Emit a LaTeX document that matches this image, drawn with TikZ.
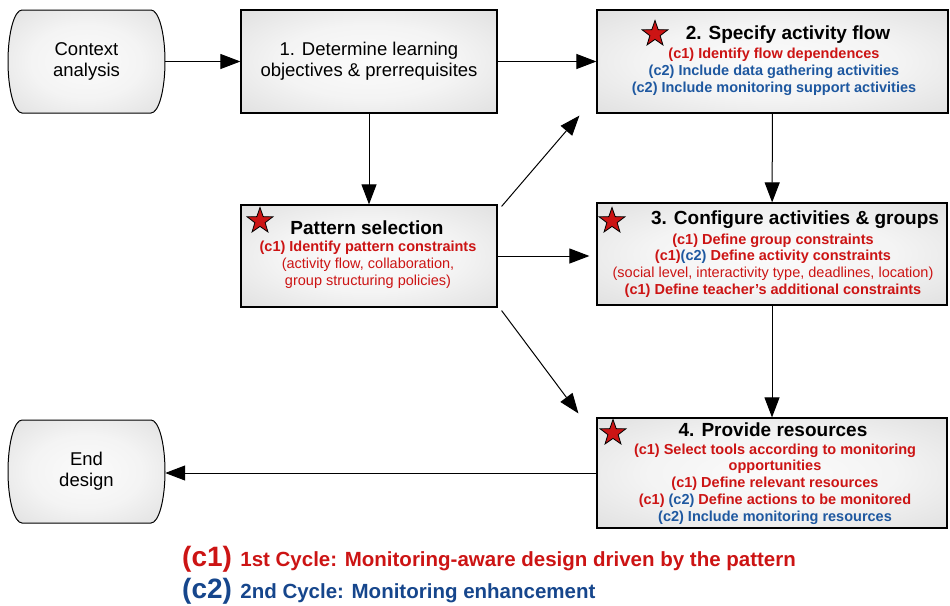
\documentclass[tikz,border=0pt]{standalone}
\usepackage{fontspec}
\setmainfont{Liberation Sans}
\usepackage{xcolor}
\usetikzlibrary{calc}
\usetikzlibrary{arrows.meta, shapes, positioning}
\definecolor{cred}{RGB}{204,20,20}
\definecolor{cblue}{RGB}{30,88,160}
\definecolor{cdblue}{RGB}{22,70,140}
\pgfdeclareradialshading{boxshade}{\pgfpoint{0bp}{0bp}}{color(0bp)=(gray!3); color(18bp)=(gray!9); color(50bp)=(gray!36); color(72bp)=(gray!42)}

\begin{document}
\begin{tikzpicture}[x=1pt, y=-1pt]
 \tikzstyle{pbox}=[rectangle, draw, line width=1.2pt, shading=boxshade, inner sep=0pt]
 \tikzstyle{tshape}=[draw, line width=1pt, shading=boxshade]
 \tikzstyle{term}=[rectangle, inner sep=0pt, minimum width=157, minimum height=103, align=center, font=\fontsize{18.5}{21}\selectfont]
 \tikzstyle{line}=[draw, line width=1pt, -{Triangle[length=20pt, width=15pt]}]
 \tikzstyle{ttl}=[font=\fontsize{19}{22}\selectfont\bfseries]
 \tikzstyle{sub}=[align=center, font=\fontsize{14.5}{16.8}\selectfont\bfseries, text=cred]
 \tikzstyle{cstar}=[star, star points=5, star point ratio=2.5, draw, line width=0.8pt, fill=cred, minimum size=27, inner sep=0pt]

 \useasboundingbox (0,0) rectangle (950,605);

 % start / end of the design
 \foreach \yy in {61.5, 471.5}
  \shade[tshape] (86.5,\yy) ++(-64.5,-51.5) -- ++(129,0)
   arc[start angle=-90, end angle=90, x radius=14, y radius=51.5] -- ++(-129,0)
   arc[start angle=90, end angle=270, x radius=14, y radius=51.5] -- cycle;
 \node[term] (ctx) at (86.5,61.5) {Context\\analysis};
 \node[term] (fin) at (86.5,471.5) {End\\design};

 % step 1
 \node[pbox, minimum width=256, minimum height=103, align=center, font=\fontsize{18.5}{21}\selectfont] (b1) at (369,61.5) {1. Determine learning\\objectives \& prerrequisites};

 % pattern selection
 \node[pbox, minimum width=256, minimum height=102] (pat) at (369,256) {};
 \node[cstar] (patstar) at (260,221) {};
 \node[ttl] (patt) at (367,228) {Pattern selection};
 \node[sub] (pats) at (368,265) {(c1) Identify pattern constraints\\{\mdseries (activity flow, collaboration,}\\{\mdseries group structuring policies)}};

 % step 2
 \node[pbox, minimum width=351, minimum height=103] (b2) at (772.5,61.5) {};
 \node[cstar] (b2star) at (655,34) {};
 \node[ttl] (b2t) at (788,35) {2. Specify activity flow};
 \node[sub] (b2s) at (774,72) {(c1) Identify flow dependences\\\textcolor{cblue}{(c2) Include data gathering activities}\\\textcolor{cblue}{(c2) Include monitoring support activities}};

 % step 3
 \node[pbox, minimum width=350, minimum height=102] (b3) at (772,254) {};
 \node[cstar] (b3star) at (612,221) {};
 \node[ttl] (b3t) at (795,220) {3. Configure activities \& groups};
 \node[sub] (b3s) at (773,265.5) {(c1) Define group constraints\\(c1)\textcolor{cblue}{(c2)} Define activity constraints\\{\mdseries (social level, interactivity type, deadlines, location)}\\(c1) Define teacher's additional constraints};

 % step 4
 \node[pbox, minimum width=350, minimum height=110] (b4) at (772,473) {};
 \node[cstar] (b4star) at (613,433) {};
 \node[ttl] (b4t) at (773,430) {4. Provide resources};
 \node[sub] (b4s) at (775,484) {(c1) Select tools according to monitoring\\opportunities\\(c1) Define relevant resources\\(c1) \textcolor{cblue}{(c2)} Define actions to be monitored\\\textcolor{cblue}{(c2) Include monitoring resources}};

 % legend
 \node[anchor=base west, inner sep=0pt, text=cred, font=\fontsize{28}{30}\selectfont\bfseries] (l1) at (182,566) {(c1)};
 \node[anchor=base west, inner sep=0pt, text=cred, font=\fontsize{20.5}{24}\selectfont\bfseries] (l1t) at ([xshift=8pt]l1.base east) {1st Cycle: Monitoring-aware design driven by the pattern};
 \node[anchor=base west, inner sep=0pt, text=cdblue, font=\fontsize{28}{30}\selectfont\bfseries] (l2) at (182,598) {(c2)};
 \node[anchor=base west, inner sep=0pt, text=cdblue, font=\fontsize{20.5}{24}\selectfont\bfseries] (l2t) at ([xshift=8pt]l2.base east) {2nd Cycle: Monitoring enhancement};

 % flow
 \path[line] (ctx) -- (b1);
 \path[line] (b1) -- (b2);
 \path[line] (b1) -- (pat);
 \path[line] ($(pat.north east)+(4,2)$) -- ($(b2.south west)+(-17,2)$);
 \path[line] (pat.east) -- ($(pat.east -| b3.west)+(-7,0)$);
 \path[line] ($(pat.south east)+(4,3)$) -- ($(b4.north west)+(-18,-4)$);
 \path[line] (b2) -- (b3);
 \path[line] (b3) -- (b4);
 \path[line] (b4.west) -- (b4.west -| fin.east);
\end{tikzpicture}
\end{document}
